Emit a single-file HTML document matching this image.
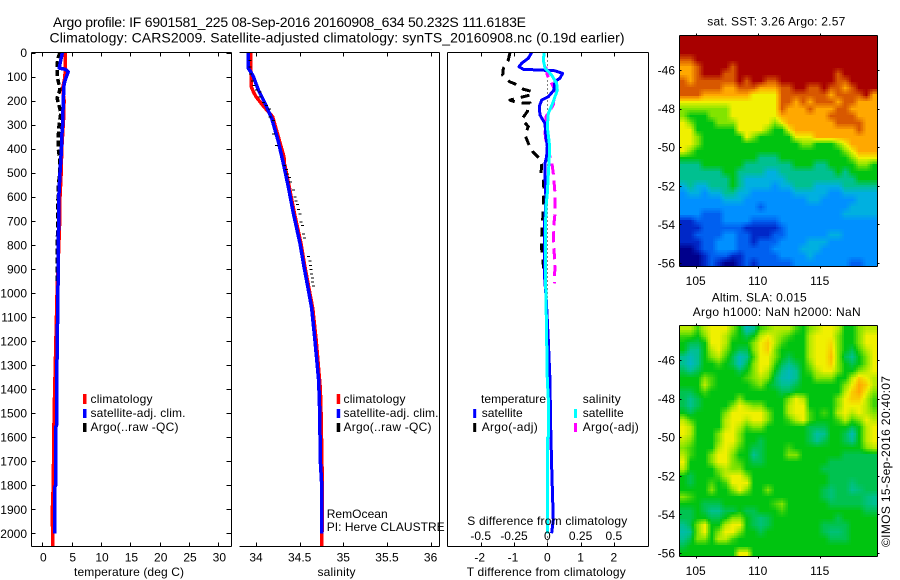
<!DOCTYPE html>
<html>
<head>
<meta charset="utf-8">
<title>Argo profile</title>
<style>
html,body{margin:0;padding:0;background:#fff;}
svg{display:block;}
text{font-family:"Liberation Sans",sans-serif;font-size:12px;fill:#000;}
.title{font-size:14px;}
</style>
</head>
<body>
<svg id="fig" xmlns="http://www.w3.org/2000/svg" width="900" height="580" viewBox="0 0 900 580">
<rect x="0" y="0" width="900" height="580" fill="#fff"/>
<text class="title" x="53" y="27" textLength="473" lengthAdjust="spacing">Argo profile: IF 6901581_225 08-Sep-2016 20160908_634 50.232S 111.6183E</text>
<text class="title" x="49.5" y="42.5" textLength="575" lengthAdjust="spacing">Climatology: CARS2009. Satellite-adjusted climatology: synTS_20160908.nc (0.19d earlier)</text>

<g id="p1"></g>
<g id="p2"></g>
<g id="p3"></g>
<g id="m1"></g>
<g id="m2"></g>
<g id="labels"></g>

<g>
<rect x="83" y="394" width="3.5" height="10" fill="#f00"/>
<rect x="83" y="409" width="3.5" height="9" fill="#00f"/>
<rect x="83" y="423" width="3.5" height="9" fill="#000"/>
<text x="90.5" y="403" textLength="62">climatology</text>
<text x="90.5" y="417" textLength="95">satellite-adj. clim.</text>
<text x="90.5" y="431" textLength="88">Argo(..raw -QC)</text>
</g>
<g>
<rect x="336.7" y="394" width="3.5" height="10" fill="#f00"/>
<rect x="336.7" y="409" width="3.5" height="9" fill="#00f"/>
<rect x="336.7" y="423" width="3.5" height="9" fill="#000"/>
<text x="343.5" y="403" textLength="62">climatology</text>
<text x="343.5" y="417" textLength="95">satellite-adj. clim.</text>
<text x="343.5" y="431" textLength="88">Argo(..raw -QC)</text>
<text x="326.7" y="518" textLength="61">RemOcean</text>
<text x="326.7" y="531" textLength="118">PI: Herve CLAUSTRE</text>
</g>
<g>
<text x="481" y="403" textLength="65">temperature</text>
<text x="582.7" y="403" textLength="38">salinity</text>
<rect x="473.2" y="409" width="3" height="9" fill="#00f"/>
<rect x="473.2" y="423" width="3" height="9" fill="#000"/>
<rect x="574" y="409" width="3" height="9" fill="#0ff"/>
<rect x="574" y="423" width="3" height="9" fill="#f0f"/>
<text x="481.7" y="417" textLength="41">satellite</text>
<text x="481.7" y="431" textLength="56">Argo(-adj)</text>
<text x="582.7" y="417" textLength="41">satellite</text>
<text x="582.7" y="431" textLength="56">Argo(-adj)</text>
<text x="467.3" y="525" textLength="160">S difference from climatology</text>
</g>

<text x="74" y="576" textLength="110">temperature (deg C)</text>
<text x="317.5" y="576" textLength="38">salinity</text>
<text x="466.7" y="576" textLength="159">T difference from climatology</text>
<text x="707.3" y="25.7" textLength="138">sat. SST: 3.26 Argo: 2.57</text>
<text x="711.7" y="301.7" textLength="95">Altim. SLA: 0.015</text>
<text x="692.7" y="316" textLength="168">Argo h1000: NaN h2000: NaN</text>
<text transform="translate(890,547) rotate(-90)" x="0" y="0" textLength="171">©IMOS 15-Sep-2016 20:40:07</text>
</svg>
<script>
// ---------- axis tick values ----------
const depthTicks = [0,100,200,300,400,500,600,700,800,900,1000,1100,1200,1300,1400,1500,1600,1700,1800,1900,2000];
const tempTicks = [0,5,10,15,20,25,30];
const salTicks = [34,34.5,35,35.5,36];
const salTickLabels = ['34','34.5','35','35.5','36'];
const diffTTicks = [-2,-1,0,1,2];
const diffSTicks = [-0.5,-0.25,0,0.25,0.5];
const diffSTickLabels = ['-0.5','-0.25','0','0.25','0.5'];
const lonTicks = [105,110,115];
const latTicks = [-46,-48,-50,-52,-54,-56];

// ---------- temperature panel ----------
const tempClimDepth = [0,100,150,200,280,400,500,600,700,1000,1300,1500,1800,1900,2053];
const tempClimValue = [3.9,3.85,3.45,3.7,3.6,3.3,3.2,3.0,2.95,2.5,2.2,2.0,1.85,1.7,1.75];
const tempSatDepth = [0,60,65,70,80,100,130,200,300,350,400,500,600,1000,1400,1550,1560,1800,1810,2000];
const tempSatValue = [3.4,2.9,2.9,3.9,4.4,4.1,3.7,3.55,3.45,3.3,3.25,3.0,2.8,2.65,2.42,2.42,2.25,2.25,2.08,2.08];
const tempArgoDepth = [0,20,50,100,130,150,170,190,250,300,350,400,450,500,550,700,950];
const tempArgoValue = [3.0,2.7,2.5,2.5,2.8,3.0,2.8,2.5,3.15,2.85,2.7,2.7,3.0,3.0,2.7,2.6,2.5];

// ---------- salinity panel ----------
const salClimDepth = [0,142,163,184,225,267,433,461,558,669,794,891,988,1064,1200,1400,1500,1800,2053];
const salClimValue = [33.94,33.945,33.97,34.0,34.09,34.19,34.32,34.325,34.38,34.44,34.515,34.56,34.61,34.65,34.69,34.737,34.745,34.76,34.755];
const salSatDepth = [0,66,80,100,156,211,274,371,461,558,669,794,891,988,1064,1200,1365,1500,1700,1800,2000];
const salSatValue = [33.912,33.912,33.939,33.97,34.027,34.103,34.18,34.256,34.313,34.37,34.428,34.504,34.55,34.6,34.638,34.676,34.718,34.73,34.737,34.753,34.753];
const salArgoDepth = [31,59,87,117,135,153,163,184,205,218,232,267,281,336,385,468,485,503,517,537,569,600,616,630,652,669,704,718,752,769,847,866,884,901,919,935,953,969];
const salArgoValue = [33.931,33.931,33.939,33.962,33.977,34.008,34.046,34.046,34.084,34.122,34.153,34.16,34.199,34.199,34.237,34.332,34.351,34.359,34.382,34.397,34.428,34.447,34.458,34.473,34.485,34.504,34.515,34.531,34.542,34.554,34.6,34.619,34.626,34.63,34.638,34.645,34.645,34.657];

// ---------- difference panel ----------
const diffTSatDepth = [0,24,45,59,70,73,76,87,107,121,156,184,198,225,260,295,350,392,433,461,544,614,725,919,1030,1196,1362,1550,1716,1945,2000];
const diffTSatValue = [-0.47,-0.57,-0.77,-0.85,-0.72,-0.22,0.23,0.46,0.38,0.23,0.2,0.03,-0.17,-0.24,-0.22,-0.07,-0.04,0,-0.02,-0.07,-0.06,-0.04,-0.09,-0.09,-0.03,0.03,0.08,0.1,0.13,0.18,0.13];
const diffSSatDepth = [0,31,66,94,128,156,205,253,308,378,433,503,586,641,780,919,1016,1362,1445,1600,1604,2000];
const diffSSatValue = [-0.023,-0.03,-0.017,0.033,0.07,0.075,0.045,0.008,0,0.015,0.015,0.008,0,-0.01,-0.015,-0.015,-0.01,0,0.008,0.008,0,0];
const diffTArgoDepth = [0,31,66,94,121,135,153,163,177,198,205,211,209,246,278,308,343,378,412,440,468,503,530,572,655,738,808,849,919];
const diffTArgoValue = [-1.12,-1.17,-1.32,-1.34,-1.14,-0.9,-0.72,-0.44,-0.52,-1.12,-0.97,-0.74,-0.52,-0.6,-0.77,-0.57,-0.67,-0.57,-0.44,-0.24,-0.17,-0.19,-0.12,-0.1,-0.12,-0.16,-0.18,-0.14,-0.1];
const diffSArgoDepth = [59,94,121,156,218,267,336,392,454,503,586,669,738,822,877,960];
const diffSArgoValue = [-0.01,0,0.025,0.058,0.045,-0.01,-0.017,-0.005,0.033,0.045,0.058,0.058,0.045,0.05,0.058,0.053];

// ---------- SST map, colour level per cell (0 coldest .. 11 warmest) ----------
const sstValues = [
[11,11,11,11,11,11,11,11,11,11,11,11,11,11,11,11,11,11,11,11,11,11,11,11,11,11,11,11],
[11,11,11,11,11,11,11,11,11,11,11,11,11,11,11,11,11,11,11,11,11,11,11,11,11,11,11,11],
[11,11,11,11,11,11,11,11,11,11,11,11,11,11,11,11,11,11,11,11,11,11,11,11,11,11,11,11],
[10,10,11,11,11,11,11,11,11,11,11,11,11,11,11,11,11,11,11,11,11,11,11,11,11,11,11,11],
[9,9,10,11,11,11,11,10,11,11,11,11,11,11,11,11,11,11,11,11,11,11,11,11,11,11,11,11],
[9,9,10,11,11,11,10,10,11,11,11,11,11,11,11,11,11,11,11,11,11,11,10,11,11,11,11,11],
[10,9,10,10,10,10,10,10,11,10,11,11,10,10,11,11,11,11,11,11,11,11,10,10,11,11,11,11],
[10,10,10,10,10,10,9,9,10,10,10,9,9,9,10,10,11,11,10,10,11,10,10,9,10,11,11,11],
[10,10,10,9,9,9,9,9,9,9,8,8,8,8,10,10,10,10,10,10,10,9,10,10,10,10,11,9],
[8,8,8,8,8,8,8,8,8,8,8,8,8,8,10,10,9,10,9,10,10,10,9,10,10,9,9,9],
[7,7,7,7,7,7,7,8,8,8,8,8,8,8,10,9,9,9,10,9,9,9,10,10,9,9,9,9],
[7,6,6,6,7,7,7,8,8,8,8,8,8,8,9,9,9,9,9,9,9,10,10,10,10,9,9,9],
[8,7,6,6,6,7,7,7,8,8,8,8,8,7,8,9,9,9,9,9,9,9,10,10,10,10,9,9],
[8,8,6,6,6,6,6,6,8,8,8,8,7,6,6,8,9,9,9,9,9,9,9,9,9,10,9,9],
[8,8,7,6,6,6,6,6,6,8,7,6,6,6,6,6,8,8,8,9,9,9,9,9,9,9,9,9],
[8,8,7,6,6,6,6,6,6,6,6,6,6,6,6,6,6,7,7,6,6,6,7,8,9,9,9,9],
[8,7,6,6,6,6,6,6,6,6,6,6,6,6,6,6,6,6,6,6,6,6,6,7,8,9,9,9],
[6,6,6,6,6,6,6,6,6,6,6,5,5,5,6,6,6,6,6,6,6,6,6,6,7,8,8,8],
[5,5,5,6,6,6,6,6,6,5,5,5,5,5,5,5,6,6,6,5,5,6,6,6,6,7,7,6],
[5,5,5,5,5,5,6,6,5,5,5,5,4,4,5,5,5,5,5,5,5,5,6,5,6,6,6,6],
[5,5,5,5,5,5,5,6,5,4,4,4,4,4,4,5,5,5,5,5,5,5,5,5,5,6,6,6],
[4,5,4,4,5,5,5,6,5,4,4,4,4,3,4,4,5,5,5,4,4,4,4,5,5,5,5,5],
[3,4,4,3,4,4,5,5,4,4,3,3,3,3,3,3,4,4,4,4,4,3,3,4,4,4,4,4],
[3,3,3,3,3,3,4,4,4,3,3,3,3,3,3,3,3,3,4,4,3,3,3,3,3,4,4,4],
[3,3,3,3,3,3,3,3,3,3,3,2,3,3,3,3,3,3,3,3,3,3,3,3,4,4,4,4],
[3,3,3,2,2,2,3,3,3,3,3,3,3,3,3,3,3,3,3,3,3,3,3,4,4,4,4,4],
[1,1,2,2,2,2,3,3,3,3,2,2,2,2,3,3,3,3,3,3,3,3,3,3,3,3,3,3],
[1,1,1,2,2,2,2,2,2,1,1,1,1,1,2,3,3,3,3,3,3,3,3,3,3,3,3,3],
[1,1,2,2,2,2,3,3,2,2,1,1,1,2,2,3,3,3,3,3,3,4,4,3,3,3,3,3],
[1,1,1,2,2,3,3,3,2,2,1,2,2,2,3,3,3,3,4,4,4,3,3,3,3,3,3,3],
[0,0,1,2,2,3,3,3,2,2,2,2,2,3,3,3,3,4,4,4,3,3,3,3,3,3,3,3],
[0,0,0,1,2,2,2,1,1,2,2,2,2,2,3,3,3,3,4,3,3,3,3,3,3,3,3,3],
[0,0,0,1,2,1,0,0,1,2,1,2,2,2,2,2,3,3,3,3,3,3,3,3,2,2,3,3]
];

// ---------- SLA map, colour level per cell ----------
const slaValues = [
[7.5,7.5,6.5,7.5,8,8,8,7,6,4.5,5,6.5,7,7.5,7.5,7.5,6.5,6,7,7.5,8,8,7.5,6,6,7,7.5,7.5],
[6.5,6.5,6,7,8,8,7.5,6.5,6,5.5,6,7.5,8,7.5,7,6.5,6,6,7.5,8,8,8,7,6,6,7,8,8],
[6,5.5,5.5,6,8,8,7.5,6,6,6,7,8,8.5,7.5,6.5,6,6,6,7.5,8,8,8.3,7,6,6,7,8,8],
[6,5,5,6,7.5,8,7,6,5.5,5.5,7,8,8.5,7,6,6,6,6,7.5,8,8,8.5,7,6,5.5,6.5,7.5,8],
[5,4.5,5,6,7,7.5,6.5,5.5,4.5,5,6.5,8,8,7,6,5.5,6,6,7.5,8,8,8.7,7,5.5,5,6,7,8],
[5,4.3,5,6,6,6.5,6,5.5,4.5,5.5,7,8,8,6.5,5.5,5,5.5,6,7,8,8,8.5,7,6,5.5,6,7,8],
[5.5,5,5.5,6,6,6,6,6,5.5,6,7,8,7.5,6,5,4.5,5,6,6.5,7.5,8,8,7,6,6,7,7.5,8],
[6,6,6,7,6.5,6,6,6,6,6.5,7,7.5,7,5.5,4.7,4.5,5,6,6,7,7,7,6,6,7.5,8.5,8,7.5],
[6,6,6,7.5,6.5,6,6,6,6,6,6.5,7,6,5.5,5,5,5.5,6,6,6,6,6,6,7,8,9,8.5,7.5],
[5.5,5.5,6,6.5,6,6,6,6,6,6,6,6,6,6,5.5,5.5,6,6,6,6,6,6,6,7.5,8.5,9,8,7],
[5.5,5,5.5,6,6,6,6,6,7,6,6,6,6,6,6,7,8,7.5,6,6,6,6,7,8,8.5,8.5,7.5,6.5],
[5.5,5,5.5,6,6,6,6,7,8,7.5,7,7,6,6,6,7.5,8,8,6,6,6,6,7,8,8,8,7.5,6.5],
[6,5.5,6,6,6,6,7,8,8,8,8,8,7,6,6,7.5,8,8,6.5,6,6.5,6,7.5,8,7.5,8,7.5,7],
[7.5,6.5,6,6,6,6,7.5,8,8,7.5,8,8,7,6,6,6.5,7.5,8,6.5,6,6,6,6.5,7.5,6.5,7,8,7.5],
[8,7.5,6,6,6,6,7.5,8,7.5,6.5,7,7,6,6,6,6,6,6,5.5,5.5,5.5,6,6,6,5.5,6,7.5,8],
[8,7.5,6,6,6,7,8,8,7,6,6,6,6,6,6,6,6,6,5.5,4.8,5,6,6,5.5,4.6,6,7.5,8],
[7.5,7,6,6,6,7,8,8,7,6,6,5.5,6,6,6,6,6,6,5.5,5,5.5,6,6,5.5,5,6,7.5,8],
[7,6.5,6,6,6,7.5,8,7.5,6.5,6,5.5,5.5,6,6,6,6.5,6,6,6,6,6,6,6,6,6,6,7,7.5],
[7.5,6.5,6,6,7,8,8,7,6,6,5,5.5,6,6,6,7,7,6,6,6,6,6,6,5.5,5.5,5.5,5.5,5.5],
[8,6,6,6,7,8,8,7,6.5,6,5.5,5.5,6,6,6,6,6,6,6,6,6,5.5,5.5,5.5,5.5,5.5,5.5,5.5],
[7.5,6,6,6,6,7,7.5,7,7,6,6,6,6,6,6,6,6,6,6,6,5.5,5.5,5.5,5.5,5.5,5.5,5.5,5.5],
[6,5.5,6,6,6,6.5,7.5,8,8,7,6,6,6,6,6,6,6,6,6,6,6,5.5,5.5,5.5,5.5,5.5,5.5,5.5],
[6,5.5,6,6,6.5,6,6.5,8,8,8,6,6,6,6,6,6,6,6,6,6,6,5.5,5.5,5.5,5.2,5.5,5.5,5.5],
[6,6,6,6,7,6,6,7,8,7,6,6,7,6,6,6,6,6,6,6,5.5,5.2,5.5,5.5,5,5.2,5.5,5.5],
[7,6.5,6,6,6,6,6,6,6,6,6,6,6,6,6,6,6,6,6,6,5.5,5.2,5.5,5.5,5.5,5.5,5.2,5],
[6,6,6,5.5,5.5,5.5,6,6,6,6,6,6,6,6.5,7,6,6,6,6,6,6,5.5,5.5,5.5,5.5,5.5,5.2,5],
[5.5,5.5,6,5.5,5,5,5.5,5.5,6,5.5,5.5,6,6,6,6.5,6,6,6,6,6,6,6,6,6,6,6,5.5,5.5],
[5.5,5.5,6,6,5.5,5.5,6,7,7,6,5.5,5.2,5.5,6,6,6,6,6,6,6,6,6,5.5,6,6,6,6,6],
[5,5.5,7,8,6,6,7.5,8,8,6,5.5,5.2,5.5,6,6,6,6,6,6,6,5.5,5.5,5.5,5.5,6,6,6,6],
[4.7,5,7,8,6,7,8,8,7,6,6,5.5,6,6,6,6,6,6,6,6,5.5,5.2,5.2,5.5,6,6,6,6],
[5,5.5,7,7,6,7.5,7.5,6.5,6,6,6,6,6,6,6,6,6,6,6,6,6,5.5,5.5,5.5,6,6,6,6],
[5.5,6,6,6,6,6,6,6,6,6,6,6,6,6,6,6,6,6,6,6,6,6,6,6,6,6,6,6],
[6,6,6,6,6,6,6,6,8,8,6,6,6,6,6,6,6,6,6,6,6,6,6,6,6,6,6,6]
];

const NS = 'http://www.w3.org/2000/svg';
const palette = [[0,0,140],[0,40,200],[0,96,240],[0,144,255],[0,176,224],[0,192,144],[0,196,16],[130,228,0],[240,240,0],[255,168,0],[216,88,0],[168,0,0]];

// ---------- axis functions ----------
function yDepth(d){ return 52.5 + 0.2404 * d; }
function xTemp(t){ return 42.4 + 5.865 * t; }
function xSal(s){ return 256 + 87.3 * (s - 34); }
function xDiffT(t){ return 547.3 + 33.3 * t; }
function xDiffS(s){ return xDiffT(s * 4); }
function xLon(l){ return 695.7 + 12.4 * (l - 105); }
function ySst(l){ return 70 + 19.3 * (-46 - l); }
function ySla(l){ return 360 + 19.3 * (-46 - l); }

function levelColor(v){
  const c = Math.max(0, Math.min(palette.length - 1, v));
  const i = Math.min(palette.length - 2, Math.floor(c));
  const f = c - i;
  const a = palette[i], b = palette[i + 1];
  return 'rgb(' + Math.round(a[0] + (b[0] - a[0]) * f) + ',' + Math.round(a[1] + (b[1] - a[1]) * f) + ',' + Math.round(a[2] + (b[2] - a[2]) * f) + ')';
}

function drawLine(parent, name, xs, ys, xf, color, width, dash){
  const el = document.createElementNS(NS, 'polyline');
  
  
  el.setAttribute('points', xs.map(function(v, i){ return xf(v).toFixed(2) + ',' + yDepth(ys[i]).toFixed(2); }).join(' '));
  el.setAttribute('fill', 'none');
  el.setAttribute('stroke', color);
  el.setAttribute('stroke-width', width);
  el.setAttribute('stroke-linejoin', 'round');
  el.setAttribute('shape-rendering', 'crispEdges');
  if (dash) el.setAttribute('stroke-dasharray', dash);
  parent.appendChild(el);
}

function drawSeg(parent, name, x1, y1, x2, y2, color, dash){
  const el = document.createElementNS(NS, 'line');
  
  
  el.setAttribute('x1', x1);
  el.setAttribute('y1', y1);
  el.setAttribute('x2', x2);
  el.setAttribute('y2', y2);
  el.setAttribute('stroke', color || '#000');
  el.setAttribute('stroke-width', 1);
  el.setAttribute('shape-rendering', 'crispEdges');
  if (dash) el.setAttribute('stroke-dasharray', dash);
  parent.appendChild(el);
}

function drawLabel(txt, x, y, anchor, name){
  const el = document.createElementNS(NS, 'text');
  
  
  el.setAttribute('x', x);
  el.setAttribute('y', y);
  el.setAttribute('text-anchor', anchor);
  el.textContent = txt;
  document.getElementById('labels').appendChild(el);
}

function drawHeatmap(parent, values, x0, y0, w, h, sub, name){
  const rows = values.length, cols = values[0].length;
  const cw = w / (cols * sub), ch = h / (rows * sub);
  function sample(r, c){
    if (sub === 1) return values[r][c];
    const fr = Math.max(0, Math.min(rows - 1.001, (r + 0.5) / sub - 0.5));
    const fc = Math.max(0, Math.min(cols - 1.001, (c + 0.5) / sub - 0.5));
    const r0 = Math.floor(fr), c0 = Math.floor(fc), dr = fr - r0, dc = fc - c0;
    return values[r0][c0] * (1 - dr) * (1 - dc) + values[r0][c0 + 1] * (1 - dr) * dc + values[r0 + 1][c0] * dr * (1 - dc) + values[r0 + 1][c0 + 1] * dr * dc;
  }
  for (let r = 0; r < rows * sub; r++){
    for (let c = 0; c < cols * sub; c++){
      const el = document.createElementNS(NS, 'rect');
      
      
      el.setAttribute('x', (x0 + c * cw).toFixed(2));
      el.setAttribute('y', (y0 + r * ch).toFixed(2));
      el.setAttribute('width', (cw + 0.6).toFixed(2));
      el.setAttribute('height', (ch + 0.6).toFixed(2));
      el.setAttribute('fill', levelColor(sample(r, c)));
      el.setAttribute('shape-rendering', 'crispEdges');
      parent.appendChild(el);
    }
  }
}

function drawMapFrame(parent, x0, y0, x1, y1, yf, suffix){
  drawSeg(parent, 'map-top-border-' + suffix, x0, y0, x1, y0);
  drawSeg(parent, 'map-bottom-border-' + suffix, x0, y1, x1, y1);
  drawSeg(parent, 'map-left-border-' + suffix, x0, y0, x0, y1);
  drawSeg(parent, 'map-right-border-' + suffix, x1, y0, x1, y1);
  lonTicks.forEach(function(l){
    const x = Math.round(xLon(l)) + 0.5;
    drawSeg(parent, 'map-lon-tick-top', x, y0 - 2, x, y0);
    drawSeg(parent, 'map-lon-tick-bottom', x, y1, x, y1 + 2);
    drawLabel(String(l), xLon(l), y1 + 18.5, 'middle', 'map-lon-label');
  });
  latTicks.forEach(function(l){
    const y = Math.round(yf(l)) + 0.5;
    drawSeg(parent, 'map-lat-tick-left', x0, y, x0 + 2, y);
    drawSeg(parent, 'map-lat-tick-right', x1, y, x1 + 2, y);
    drawLabel(String(l), 675, yf(l) + 4.5, 'end', 'map-lat-label');
  });
}

// ---------- temperature panel ----------
const p1 = document.getElementById('p1');
drawLine(p1, 'temperature-climatology-line', tempClimValue, tempClimDepth, xTemp, '#f00', 3.5);
drawLine(p1, 'temperature-argo-line', tempArgoValue, tempArgoDepth, xTemp, '#000', 3.5, '6 3');
drawLine(p1, 'temperature-satellite-line', tempSatValue, tempSatDepth, xTemp, '#00f', 3.5);
drawSeg(p1, 'temperature-top-border', 31.5, 52.5, 231.5, 52.5);
drawSeg(p1, 'temperature-bottom-border', 31.5, 546.5, 231.5, 546.5);
drawSeg(p1, 'temperature-left-border', 31.5, 52.5, 31.5, 546.5);
drawSeg(p1, 'temperature-right-border', 231.5, 52.5, 231.5, 546.5);
depthTicks.forEach(function(d){
  const y = Math.round(yDepth(d)) + 0.5;
  drawSeg(p1, 'depth-tick-left', 31.5, y, 35.5, y);
  drawSeg(p1, 'depth-tick-right', 226.5, y, 231.5, y);
  drawLabel(String(d), 27, yDepth(d) + 4.5, 'end', 'depth-tick-label');
});
tempTicks.forEach(function(t){
  const x = Math.round(xTemp(t)) + 0.5;
  drawSeg(p1, 'temperature-tick-top', x, 52.5, x, 56.5);
  drawSeg(p1, 'temperature-tick-bottom', x, 542.5, x, 546.5);
  drawLabel(String(t), xTemp(t) + 1, 561.5, 'middle', 'temperature-tick-label');
});

// ---------- salinity panel ----------
const p2 = document.getElementById('p2');
drawLine(p2, 'salinity-climatology-line', salClimValue, salClimDepth, xSal, '#f00', 3.5);
drawLine(p2, 'salinity-satellite-line', salSatValue, salSatDepth, xSal, '#00f', 3.5);
salArgoValue.forEach(function(s, i){
  const el = document.createElementNS(NS, 'rect');
  
  
  el.setAttribute('x', (xSal(s) - 1.5).toFixed(2));
  el.setAttribute('y', yDepth(salArgoDepth[i]).toFixed(2));
  el.setAttribute('width', 3);
  el.setAttribute('height', 1);
  el.setAttribute('fill', '#000');
  el.setAttribute('shape-rendering', 'crispEdges');
  p2.appendChild(el);
});
drawSeg(p2, 'salinity-top-border', 239.5, 52.5, 439.5, 52.5);
drawSeg(p2, 'salinity-bottom-border', 239.5, 546.5, 439.5, 546.5);
drawSeg(p2, 'salinity-right-border', 439.5, 52.5, 439.5, 546.5);
salTicks.forEach(function(s, i){
  const x = Math.round(xSal(s)) + 0.5;
  drawSeg(p2, 'salinity-tick-top', x, 52.5, x, 56.5);
  drawSeg(p2, 'salinity-tick-bottom', x, 542.5, x, 546.5);
  drawLabel(salTickLabels[i], xSal(s), 561.5, 'middle', 'salinity-tick-label');
});

// ---------- difference panel ----------
const p3 = document.getElementById('p3');
drawSeg(p3, 'zero-difference-line', 547.5, 52.5, 547.5, 546.5, '#000', '1 3');
drawLine(p3, 't-argo-difference-line', diffTArgoValue, diffTArgoDepth, xDiffT, '#000', 3, '9 7');
drawLine(p3, 's-argo-difference-line', diffSArgoValue, diffSArgoDepth, xDiffS, '#f0f', 3, '11 6');
drawLine(p3, 't-satellite-difference-line', diffTSatValue, diffTSatDepth, xDiffT, '#00f', 3);
drawLine(p3, 's-satellite-difference-line', diffSSatValue, diffSSatDepth, xDiffS, '#0ff', 3);
drawSeg(p3, 'difference-top-border', 447.5, 52.5, 648.5, 52.5);
drawSeg(p3, 'difference-bottom-border', 447.5, 546.5, 648.5, 546.5);
drawSeg(p3, 'difference-left-border', 447.5, 52.5, 447.5, 546.5);
drawSeg(p3, 'difference-right-border', 648.5, 52.5, 648.5, 546.5);
diffTTicks.forEach(function(t){
  const x = Math.round(xDiffT(t)) + 0.5;
  drawSeg(p3, 't-difference-tick-bottom', x, 542.5, x, 546.5);
  drawLabel(String(t), xDiffT(t) - (t < 0 ? 1 : 0), 561.5, 'middle', 't-difference-tick-label');
});
diffSTicks.forEach(function(s, i){
  const x = Math.round(xDiffS(s)) + 0.5;
  drawSeg(p3, 's-difference-tick-top', x, 52.5, x, 56.5);
  drawLabel(diffSTickLabels[i], xDiffS(s), 540, 'middle', 's-difference-tick-label');
});

// ---------- maps ----------
const m1 = document.getElementById('m1');
const m2 = document.getElementById('m2');
drawHeatmap(m1, sstValues, 680, 35.5, 197, 231, 3, 'sst-cell');
drawHeatmap(m2, slaValues, 680, 325.5, 197, 231, 3, 'sla-cell');
drawMapFrame(m1, 679.5, 35.5, 877.5, 266.5, ySst, 'sst');
drawMapFrame(m2, 679.5, 325.5, 877.5, 556.5, ySla, 'sla');
</script>
</body>
</html>
